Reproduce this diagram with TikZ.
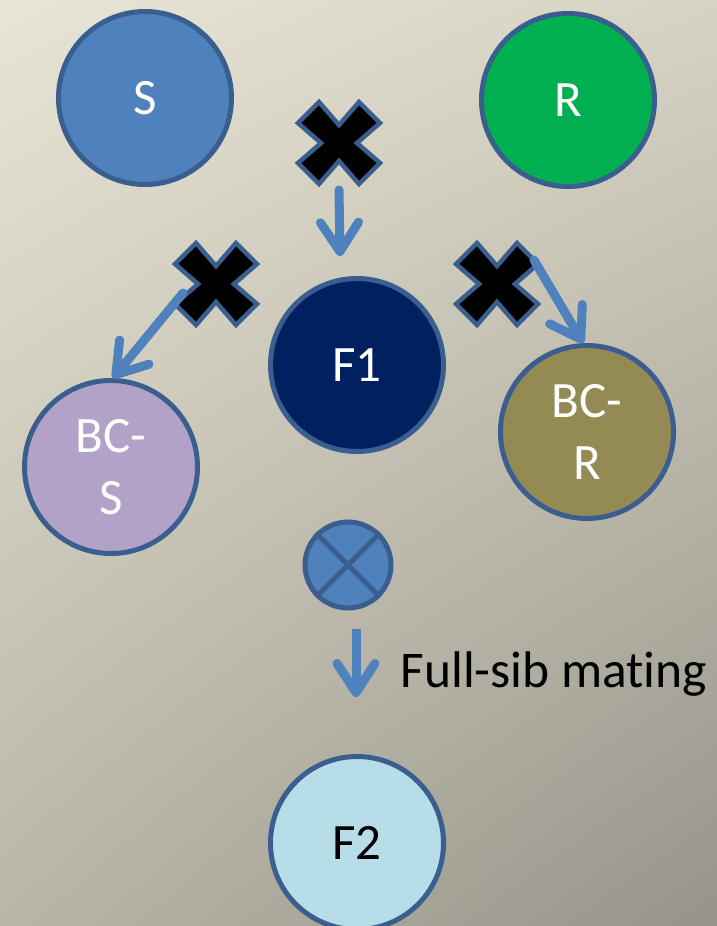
\documentclass[tikz,border=0pt]{standalone}
\usepackage{fontspec}
\setmainfont{Carlito}[Ligatures=NoCommon]
\usetikzlibrary{arrows.meta,shadings}
\definecolor{rim}{HTML}{3A5F8F}
\definecolor{flowblue}{HTML}{4F81BD}
\definecolor{bgtl}{HTML}{E8E5D7}
\definecolor{bgtr}{HTML}{D6D3C3}
\definecolor{bgbl}{HTML}{B9B6A7}
\definecolor{bgbr}{HTML}{96938A}
\definecolor{fillS}{HTML}{4F81BD}
\definecolor{fillR}{HTML}{00B050}
\definecolor{fillFone}{HTML}{002060}
\definecolor{fillBCS}{HTML}{B3A2C7}
\definecolor{fillBCR}{HTML}{948A54}
\definecolor{fillFtwo}{HTML}{B7DEE8}
\begin{document}
\begin{tikzpicture}[x=1pt,y=-1pt,
  plant/.style={circle, draw=rim, line width=5pt, minimum size=173pt, inner sep=0pt,
    font=\fontsize{51}{62}\selectfont, align=center, text=white},
  flow/.style={draw=flowblue, line width=9pt, line cap=round,
    -{Straight Barb[length=29pt,width=38pt,round]}},
  crossmark/.pic={
    \filldraw[fill=black, draw=rim, line width=4.5pt, line join=miter]
      (-20,-41) -- (0,-18) -- (20,-41) -- (41,-20) -- (18,0) -- (41,20)
      -- (20,41) -- (0,18) -- (-20,41) -- (-41,20) -- (-18,0) -- (-41,-20) -- cycle;
  }
]
\useasboundingbox (0pt,0pt) rectangle (717pt,-926pt);
\shade[upper left=bgtl, upper right=bgtr, lower left=bgbl, lower right=bgbr]
  (0pt,0pt) rectangle (717pt,-926pt);

% parents and offspring
\node[plant, fill=fillS] (S) at (145,98) {S};
\node[plant, fill=fillR] (R) at (568,100) {R};
\node[plant, fill=fillFone] (F1) at (357,365) {F1};
\node[plant, fill=fillBCS] (BCS) at (111,467) {BC-\\S};
\node[plant, fill=fillBCR] (BCR) at (587,432) {BC-\\R};
\node[plant, fill=fillFtwo, text=black] (F2) at (357,843) {F2};

% selfing symbol
\node[circle, draw=rim, fill=flowblue, line width=5pt, minimum size=86pt, inner sep=0pt] (self) at (348,565) {};
\draw[rim, line width=5pt] (self.45) -- (self.225) (self.135) -- (self.-45);

% crossing marks
\coordinate (xa) at (339,143);
\coordinate (xb) at (216,284);
\coordinate (xc) at (497,284);
\pic at (xa) {crossmark};
\pic at (xb) {crossmark};
\pic at (xc) {crossmark};

% arrow ends
\coordinate (tipa) at (340,256);
\coordinate (tipb) at (113,378);
\coordinate (tipc) at (583,343);
\coordinate (taild) at (356,629);
\coordinate (tipd) at (356,697);

\draw[flow] ([yshift=-47pt]xa) -- (tipa);
\draw[flow] (183,293) -- (tipb);
\draw[flow] (534,260) -- (tipc);
\draw[flow, line cap=butt] (taild) -- (tipd);

\node[anchor=base west, font=\fontsize{51.5}{62}\selectfont] (lab) at (397,687) {Full-sib mating};
\end{tikzpicture}
\end{document}
